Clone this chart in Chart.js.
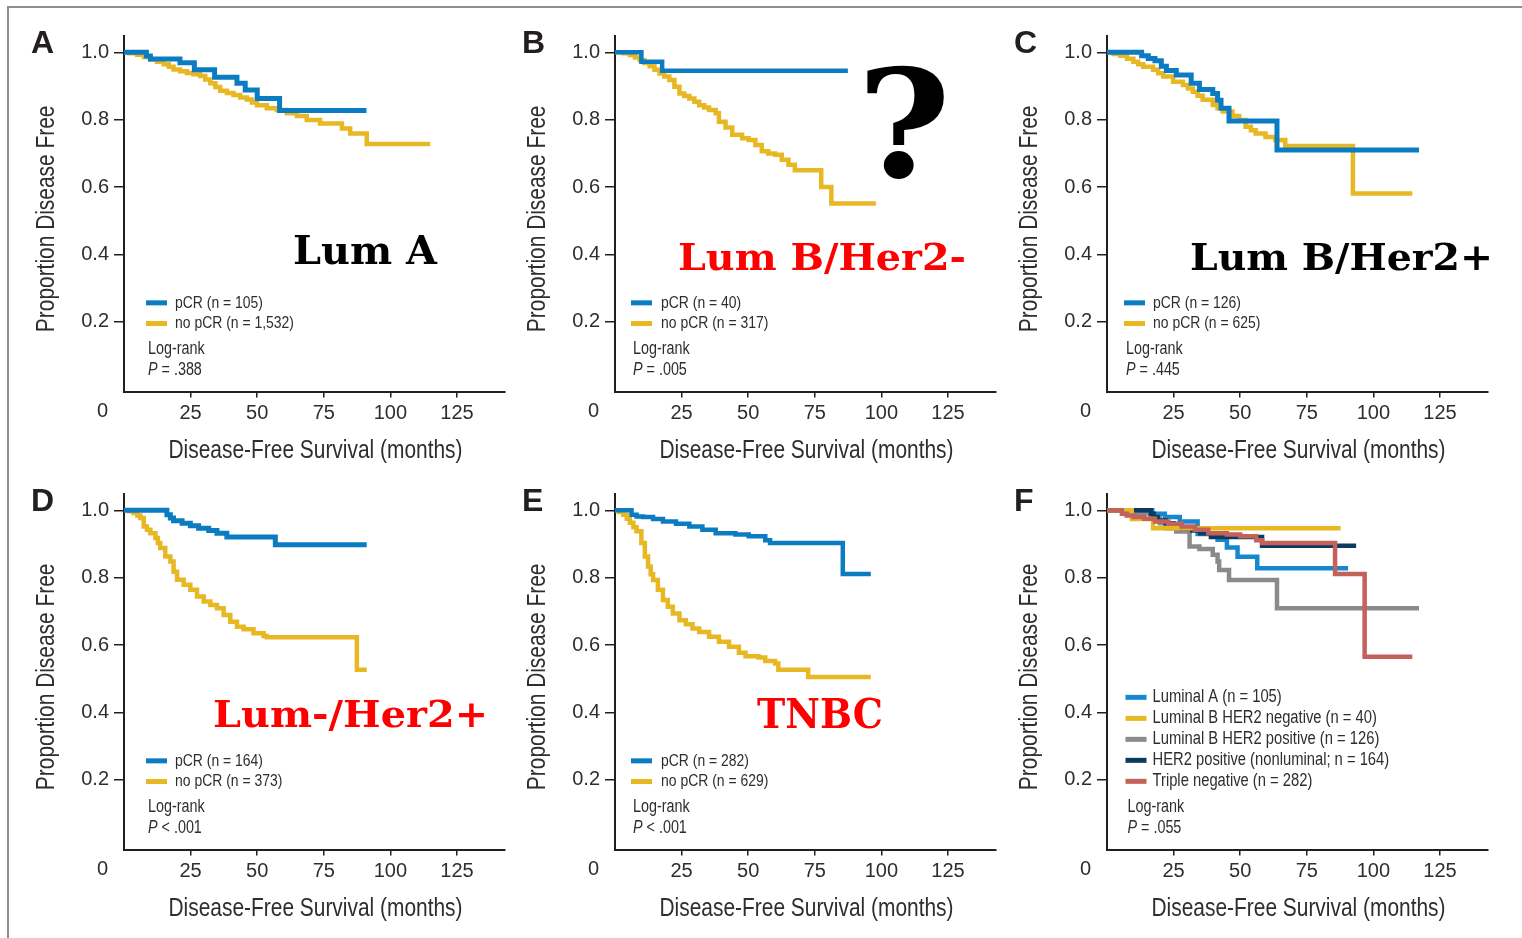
<!DOCTYPE html>
<html>
<head>
<meta charset="utf-8">
<script src="https://cdn.jsdelivr.net/npm/chart.js@4.4.1/dist/chart.umd.min.js"></script>
<style>
  body { margin: 0; background: #fff; width: 1522px; height: 938px; overflow: hidden; position: relative; }
  .frame { position: absolute; left: 7px; top: 6px; right: -4px; bottom: -4px; border-top: 2px solid #8e8e8e; border-left: 2px solid #8e8e8e; }
  canvas { position: absolute; }
</style>
</head>
<body>
<div class="frame"></div>
<script>
// tick values
const X_TICKS = [25, 50, 75, 100, 125];
const Y_TICKS = [0.2, 0.4, 0.6, 0.8, 1.0];

// Kaplan-Meier curves, [month, proportion disease free]
const lumA_pcr = [[0,1],[8.4,0.989],[9.9,0.98],[21,0.969],[26.4,0.948],[34,0.926],[42.4,0.908],[45.5,0.888],[50,0.863],[58.4,0.827],[91,0.827]];
const lumA_nopcr = [[0,1],[2,0.997],[4.9,0.993],[7.5,0.986],[9.9,0.979],[12.4,0.972],[14.9,0.965],[16.8,0.957],[18.6,0.949],[21,0.944],[23.6,0.939],[26,0.935],[28.6,0.93],[30.5,0.919],[32.4,0.908],[34.3,0.897],[36.1,0.886],[38.6,0.879],[41.1,0.873],[43.6,0.866],[46.1,0.86],[48,0.851],[49.9,0.843],[53.6,0.834],[57.4,0.829],[61.1,0.819],[64.9,0.811],[68.6,0.799],[73.6,0.789],[81.8,0.774],[84.9,0.759],[91.1,0.728],[114.9,0.728]];

const lumBneg_pcr = [[0,1],[9.9,0.972],[17.7,0.945],[87.4,0.945]];
const lumBneg_nopcr = [[0,1],[3,0.997],[5.6,0.992],[7.5,0.985],[9.3,0.977],[11,0.968],[13,0.959],[14.8,0.948],[16.7,0.937],[18.5,0.928],[20.4,0.918],[22.3,0.898],[24.2,0.878],[26,0.87],[27.9,0.863],[29.8,0.853],[31.6,0.843],[33.5,0.836],[35.3,0.829],[37.8,0.819],[39,0.794],[41.5,0.777],[44,0.755],[47.7,0.745],[50.2,0.74],[52.7,0.725],[55.1,0.706],[57.5,0.7],[60.1,0.696],[62.6,0.681],[65.1,0.666],[67.5,0.65],[77.4,0.6],[81.2,0.551],[97.9,0.551]];

const lumBpos_pcr = [[0,1],[13,0.99],[15.5,0.982],[18,0.975],[20.4,0.959],[22.3,0.946],[26,0.933],[31.6,0.908],[34.7,0.89],[39.7,0.878],[41.5,0.858],[42.8,0.834],[45.8,0.796],[63.8,0.71],[117.1,0.71]];
const lumBpos_nopcr = [[0,1],[2.5,0.995],[5,0.99],[7.5,0.981],[9.9,0.972],[11.7,0.965],[13.6,0.957],[17.3,0.948],[19.2,0.938],[21.1,0.928],[24.8,0.913],[28.5,0.903],[30.4,0.893],[32.2,0.883],[34,0.871],[35.9,0.859],[39.7,0.844],[41.5,0.834],[43.4,0.824],[47.1,0.811],[49.6,0.799],[52,0.779],[54,0.769],[55.8,0.759],[59.5,0.749],[63.2,0.74],[66.9,0.722],[92.3,0.581],[114.6,0.581]];

const her2_pcr = [[0,1],[16.1,0.987],[17.4,0.977],[18.6,0.969],[21.8,0.962],[24.9,0.954],[28,0.947],[31.8,0.94],[34.9,0.932],[38.6,0.921],[56.8,0.898],[91.1,0.898]];
const her2_nopcr = [[0,1],[2,0.997],[3.6,0.992],[5,0.985],[6.1,0.977],[7.4,0.952],[8.6,0.942],[9.9,0.932],[11.8,0.918],[12.7,0.903],[13.6,0.888],[15.5,0.863],[17.4,0.848],[18.6,0.818],[19.9,0.794],[22.4,0.779],[24.9,0.764],[27.4,0.744],[29.9,0.729],[32.4,0.719],[34.9,0.709],[37.4,0.689],[39.9,0.669],[42.4,0.654],[44.9,0.647],[48.6,0.635],[52.4,0.627],[53.6,0.623],[87.4,0.527],[91.1,0.527]];

const tnbc_pcr = [[0,1],[6.2,0.987],[8.1,0.982],[10.5,0.98],[14.3,0.974],[18,0.967],[22.9,0.96],[27.9,0.952],[32.8,0.942],[37.8,0.932],[45.2,0.928],[50.2,0.923],[56.4,0.911],[58.2,0.903],[85.5,0.811],[96,0.811]];
const tnbc_nopcr = [[0,1],[1.5,0.995],[3.1,0.987],[4.4,0.975],[5.6,0.963],[6.9,0.95],[8.1,0.938],[9.9,0.903],[11.2,0.863],[12.4,0.833],[13.4,0.81],[14.3,0.793],[16.1,0.764],[18,0.734],[19.8,0.714],[21.7,0.694],[24.2,0.674],[26.6,0.662],[29.1,0.649],[31.6,0.639],[35.3,0.625],[39,0.61],[42.8,0.595],[46.5,0.577],[49,0.567],[53.9,0.563],[56.4,0.553],[60.1,0.545],[61.3,0.527],[72.5,0.505],[96,0.505]];

// panel F: pCR patients by subtype
const f_lumA = [[0,1],[17,0.99],[21.7,0.98],[27.3,0.967],[34,0.93],[41.5,0.913],[45,0.89],[49,0.862],[56.4,0.828],[90.5,0.828]];
const f_lumBneg = [[0,1],[9.3,0.974],[17.3,0.947],[87.7,0.947]];
const f_lumBpos = [[0,1],[11.2,0.992],[16.1,0.977],[19.8,0.962],[22.3,0.947],[26,0.937],[31,0.893],[34.7,0.885],[39.7,0.868],[41.5,0.848],[42.1,0.823],[45.8,0.793],[63.8,0.709],[117.1,0.709]];
const f_her2 = [[0,1],[16.5,0.99],[17.5,0.98],[19,0.97],[22,0.962],[25,0.955],[28,0.947],[32,0.94],[35,0.932],[39,0.921],[58.2,0.895],[93.5,0.895]];
const f_tnbc = [[0,1],[5.6,0.99],[7.4,0.985],[10,0.98],[14,0.975],[18,0.967],[23,0.96],[28,0.952],[33,0.942],[38,0.932],[45,0.928],[50,0.923],[56,0.911],[58.2,0.903],[85.6,0.811],[96.7,0.565],[114.6,0.565]];

const BLUE = '#0b7cc2', YELLOW = '#e7b724';
const AXIS = '#231f20', TEXT = '#2e2e2e';
const SANS = "'Liberation Sans', Arial, sans-serif";
const SERIF = "'DejaVu Serif', 'Liberation Serif', serif";
const SQUEEZE = 0.82;   // the figure uses a condensed face

const COL_LEFT = [0, 491, 983];
const ROW_TOP = [0, 458];
const CW = 540, CH = 470;

const panels = [
  { letter: 'A', col: 0, row: 0, p: '= .388', legendDx: 22, textDx: 29,
    series: [ { label: 'pCR (n = 105)', data: lumA_pcr, color: BLUE, width: 5 },
              { label: 'no pCR (n = 1,532)', data: lumA_nopcr, color: YELLOW, width: 4.5 } ],
    notes: [ { text: 'Lum A', color: '#000', x: 293, y: 264, size: 40, w: 144 } ] },
  { letter: 'B', col: 1, row: 0, p: '= .005', legendDx: 16, textDx: 30,
    series: [ { label: 'pCR (n = 40)', data: lumBneg_pcr, color: BLUE, width: 4.5 },
              { label: 'no pCR (n = 317)', data: lumBneg_nopcr, color: YELLOW, width: 4.5 } ],
    notes: [ { text: 'Lum B/Her2-', color: '#f00', x: 187, y: 270, size: 38, w: 288 },
             { text: '?', color: '#000', x: 366, y: 177, size: 150, w: 94 } ] },
  { letter: 'C', col: 2, row: 0, p: '= .445', legendDx: 17, textDx: 29,
    series: [ { label: 'pCR (n = 126)', data: lumBpos_pcr, color: BLUE, width: 5 },
              { label: 'no pCR (n = 625)', data: lumBpos_nopcr, color: YELLOW, width: 4.5 } ],
    notes: [ { text: 'Lum B/Her2+', color: '#000', x: 207, y: 270, size: 38, w: 303 } ] },
  { letter: 'D', col: 0, row: 1, p: '< .001', legendDx: 22, textDx: 29,
    series: [ { label: 'pCR (n = 164)', data: her2_pcr, color: BLUE, width: 5 },
              { label: 'no pCR (n = 373)', data: her2_nopcr, color: YELLOW, width: 4.5 } ],
    notes: [ { text: 'Lum-/Her2+', color: '#f00', x: 213, y: 269, size: 38, w: 275 } ] },
  { letter: 'E', col: 1, row: 1, p: '< .001', legendDx: 16, textDx: 30,
    series: [ { label: 'pCR (n = 282)', data: tnbc_pcr, color: BLUE, width: 4.5 },
              { label: 'no pCR (n = 629)', data: tnbc_nopcr, color: YELLOW, width: 4.5 } ],
    notes: [ { text: 'TNBC', color: '#f00', x: 266, y: 270, size: 41, w: 126 } ] },
  { letter: 'F', col: 2, row: 1, p: '= .055', legendDx: 18.5, textDx: 27, legendTop: 187, legendGap: 21, legendSize: 18,
    series: [ { label: 'Luminal A (n = 105)', data: f_lumA, color: '#1787cf', width: 4.5, order: 3 },
              { label: 'Luminal B HER2 negative (n = 40)', data: f_lumBneg, color: '#e8b820', width: 4.5, order: 1 },
              { label: 'Luminal B HER2 positive (n = 126)', data: f_lumBpos, color: '#8a8a8a', width: 4.5, order: 4 },
              { label: 'HER2 positive (nonluminal; n = 164)', data: f_her2, color: '#0c3b60', width: 4.5, order: 2 },
              { label: 'Triple negative (n = 282)', data: f_tnbc, color: '#c2625b', width: 4.5, order: 0 } ],
    notes: [] }
];

// condensed text: regular face squeezed horizontally
function narrow(ctx, text, x, y, size, style, align, rot) {
  ctx.save();
  ctx.font = (style ? style + ' ' : '') + size + 'px ' + SANS;
  ctx.textAlign = align || 'left';
  ctx.translate(x, y);
  if (rot) ctx.rotate(rot);
  ctx.scale(SQUEEZE, 1);
  ctx.fillText(text, 0, 0);
  const w = ctx.measureText(text).width * SQUEEZE;
  ctx.restore();
  return w;
}

const overlay = {
  id: 'overlay',
  afterDraw(chart, args, opts) {
    const p = opts.panel;
    const ctx = chart.ctx;
    const x = chart.scales.x, y = chart.scales.y;
    const ax = x.getPixelForValue(0);
    const base = y.getPixelForValue(1);
    ctx.save();
    ctx.fillStyle = TEXT;

    // the lone "0" under the origin
    ctx.font = '20px ' + SANS;
    ctx.textAlign = 'center';
    ctx.textBaseline = 'top';
    ctx.fillText('0', ax - 21.5, x.top + 6 + 4);

    // axis titles
    ctx.textBaseline = 'middle';
    narrow(ctx, 'Disease-Free Survival (months)', (x.left + x.right) / 2 + 1, base + 398.5, 25.5, '', 'center');
    narrow(ctx, 'Proportion Disease Free', ax - 77, base + 166.5, 25.5, '', 'center', -Math.PI / 2);

    // panel letter
    ctx.fillStyle = AXIS;
    ctx.font = 'bold 32px ' + SANS;
    ctx.textAlign = 'left';
    ctx.textBaseline = 'alphabetic';
    ctx.fillText(p.letter, ax - 93, base + 1);

    // legend
    const top = p.legendTop || 250.5, gap = p.legendGap || 20.7, size = p.legendSize || 17;
    ctx.textBaseline = 'middle';
    p.series.forEach((s, i) => {
      const ry = base + top + i * gap;
      ctx.fillStyle = s.color;
      ctx.fillRect(ax + p.legendDx, ry - 2.5, 21, 5);
      ctx.fillStyle = TEXT;
      narrow(ctx, s.label, ax + p.legendDx + p.textDx, ry, size);
    });
    const lx = ax + p.legendDx + 2;
    narrow(ctx, 'Log-rank', lx, base + 296.6, 17.5);
    const pw = narrow(ctx, 'P', lx, base + 317.6, 17.5, 'italic');
    narrow(ctx, ' ' + p.p, lx + pw, base + 317.6, 17.5);

    // subtype notes
    ctx.textBaseline = 'alphabetic';
    p.notes.forEach(n => {
      ctx.font = 'bold ' + n.size + 'px ' + SERIF;
      const mw = ctx.measureText(n.text).width;
      ctx.save();
      ctx.translate(n.x, n.y);
      ctx.scale(n.w / mw, 1);
      ctx.fillStyle = n.color;
      ctx.fillText(n.text, 0, 0);
      ctx.restore();
    });
    ctx.restore();
  }
};

panels.forEach(p => {
  const cv = document.createElement('canvas');
  cv.width = CW; cv.height = CH;
  cv.style.left = COL_LEFT[p.col] + 'px';
  cv.style.top = ROW_TOP[p.row] + 'px';
  document.body.appendChild(cv);

  new Chart(cv, {
    type: 'line',
    data: {
      datasets: p.series.map((s, i) => ({
        label: s.label,
        data: s.data.map(d => ({ x: d[0], y: d[1] })),
        borderColor: s.color,
        borderWidth: s.width,
        stepped: 'before',
        pointRadius: 0,
        fill: false,
        borderCapStyle: 'butt',
        borderJoinStyle: 'miter',
        order: s.order !== undefined ? s.order : i
      }))
    },
    options: {
      responsive: false,
      animation: false,
      devicePixelRatio: 1,
      layout: { padding: { top: 35.5, right: CW - 505, left: 0, bottom: 0 } },
      plugins: { legend: { display: false }, tooltip: { enabled: false }, overlay: { panel: p } },
      scales: {
        x: {
          type: 'linear', min: 0, max: 143,
          afterBuildTicks: s => { s.ticks = X_TICKS.map(v => ({ value: v })); },
          afterFit: s => { s.height = CH - 391.5; },
          ticks: { color: TEXT, font: { family: SANS, size: 20 }, padding: 4, maxRotation: 0, autoSkip: false },
          grid: { drawOnChartArea: false, drawTicks: true, tickLength: 6, color: AXIS, lineWidth: 1.5 },
          border: { display: true, color: AXIS, width: 2 },
          title: { display: false }
        },
        y: {
          type: 'linear', min: -0.007, max: 1.05,
          afterBuildTicks: s => { s.ticks = Y_TICKS.map(v => ({ value: v })); },
          afterFit: s => { s.width = 124; },
          ticks: { color: TEXT, font: { family: SANS, size: 20 }, padding: 5, callback: v => v.toFixed(1) },
          grid: { drawOnChartArea: false, drawTicks: true, tickLength: 10, color: AXIS, lineWidth: 1.5 },
          border: { display: true, color: AXIS, width: 2 },
          title: { display: false }
        }
      }
    },
    plugins: [overlay]
  });
});
</script>
</body>
</html>
